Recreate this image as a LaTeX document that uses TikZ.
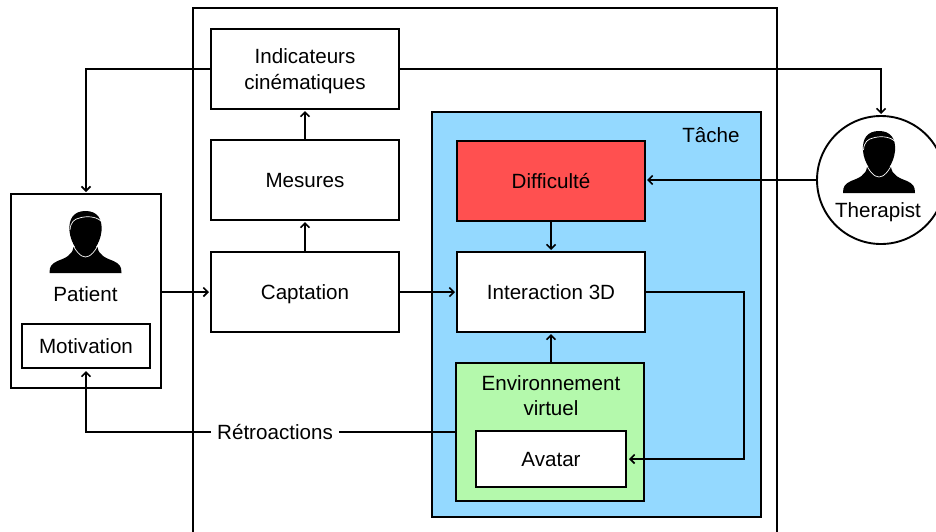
\documentclass[tikz,border=0pt]{standalone}
\usepackage{fontspec}
\setmainfont{Liberation Sans}
\usepackage{color}
\usepackage{tikz}
\usetikzlibrary{calc}
\usetikzlibrary{positioning}
\usetikzlibrary{arrows.meta}
\definecolor{tacheblue}{HTML}{94D9FF}
\definecolor{diffred}{HTML}{FF5050}
\definecolor{envgreen}{HTML}{B4F9AC}
\tikzset{
	boxnode/.style={draw, line width=1.9pt, inner sep=0pt, outer sep=0pt, align=center, minimum width=188pt, minimum height=80pt, fill=white, text depth=-1pt},
	txt/.style={inner sep=0pt, outer sep=0pt, align=center},
	link/.style={line width=1.6pt},
	personicon/.pic={
		\fill[black] (-36,62) .. controls (-36,55) and (-34,53) .. (-28,50) .. controls (-20,47) and (-13,44) .. (-12,36) -- (12,36) .. controls (13,44) and (20,47) .. (28,50) .. controls (34,53) and (36,55) .. (36,62) -- cycle;
		\fill[black] (-16,20) .. controls (-17,8) and (-12,0) .. (0,0) .. controls (12,0) and (17,8) .. (16,20) .. controls (15,32) and (6,45) .. (0,45) .. controls (-6,45) and (-15,32) .. (-16,20) -- cycle;
		\draw[white, line width=0.7pt] (-15.5,19) .. controls (-15,11) and (-11,8) .. (-6,7) .. controls (0,5) and (10,5) .. (15.5,10);
		\draw[white, line width=0.7pt] (-14,31) .. controls (-10,40) and (-5,46) .. (0,46) .. controls (5,46) and (10,40) .. (14,31);
	}
}
\begin{document}
\begin{tikzpicture}[x=1pt,y=-1pt,font=\fontsize{20.6}{24}\selectfont, >={Straight Barb[length=4.5pt,width=9pt]}]
	\useasboundingbox (0,0) rectangle (936,531);
	% system frame, open at the bottom
	\draw[line width=1.9pt] (193,540) -- (193,8) -- (777,8) -- (777,540);
	\node[boxnode, fill=tacheblue, minimum width=329pt, minimum height=405pt] (tache) at (596.5,314.5) {};
	\node[txt] (tachelabel) at (711,135.5) {Tâche};

	\node[boxnode, text depth=-5pt] (indic) at (305,69) {Indicateurs\\[2pt]cinématiques};
	\node[boxnode] (mesures) at (305,180) {Mesures};
	\node[boxnode, text depth=0pt] (captation) at (305,292) {Captation};
	\node[boxnode, fill=diffred] (diff) at (551,181) {Difficulté};
	\node[boxnode] (inter) at (551,292) {Interaction 3D};
	\node[boxnode, fill=envgreen, minimum height=138pt] (env) at (550,432) {};
	\node[txt] (envlabel) at (551,395.5) {Environnement\\[1.5pt]virtuel};
	\node[boxnode, minimum width=150pt, minimum height=56pt] (avatar) at (551,459) {Avatar};

	\node[boxnode, minimum width=150pt, minimum height=194pt] (patient) at (86,291) {};
	\pic at (85.5,211) {personicon};
	\node[txt] (patientlabel) at (85.5,294.5) {Patient};
	\node[boxnode, minimum width=128pt, minimum height=44pt] (motiv) at (86,346) {Motivation};

	\node[draw, circle, line width=1.9pt, inner sep=0pt, outer sep=0pt, minimum size=128pt, fill=white] (therapist) at (881,180) {};
	\pic at (879,131) {personicon};
	\node[txt] (therapistlabel) at (878,212) {Therapist};

	\node[txt, fill=white, inner xsep=6pt, inner ysep=2pt] (retro) at (275,432) {Rétroactions};
	\coordinate (turn) at (744,292);

	\draw[link, ->, shorten >=2pt] (indic.west) -| (patient.north);
	\draw[link, ->, shorten >=2pt] (indic.east) -| (therapist.north);
	\draw[link, ->, shorten >=2pt] (therapist.west) -- (therapist.west -| diff.east);
	\draw[link, ->, shorten >=2pt] (diff) -- (inter);
	\draw[link, ->, shorten >=2pt] (captation) -- (mesures);
	\draw[link, ->, shorten >=2pt] (mesures) -- (indic);
	\draw[link, ->, shorten >=2pt] (patient.east |- captation) -- (captation);
	\draw[link, ->, shorten >=2pt] (captation) -- (inter);
	\draw[link, ->, shorten >=2pt] (env.north -| inter) -- (inter);
	\draw[link, ->, shorten >=3pt] (inter) -- (turn) |- (avatar.east);
	\draw[link] (env) -- (retro);
	\draw[link, ->, shorten >=3pt] (retro) -| (motiv.south);
\end{tikzpicture}
\end{document}
